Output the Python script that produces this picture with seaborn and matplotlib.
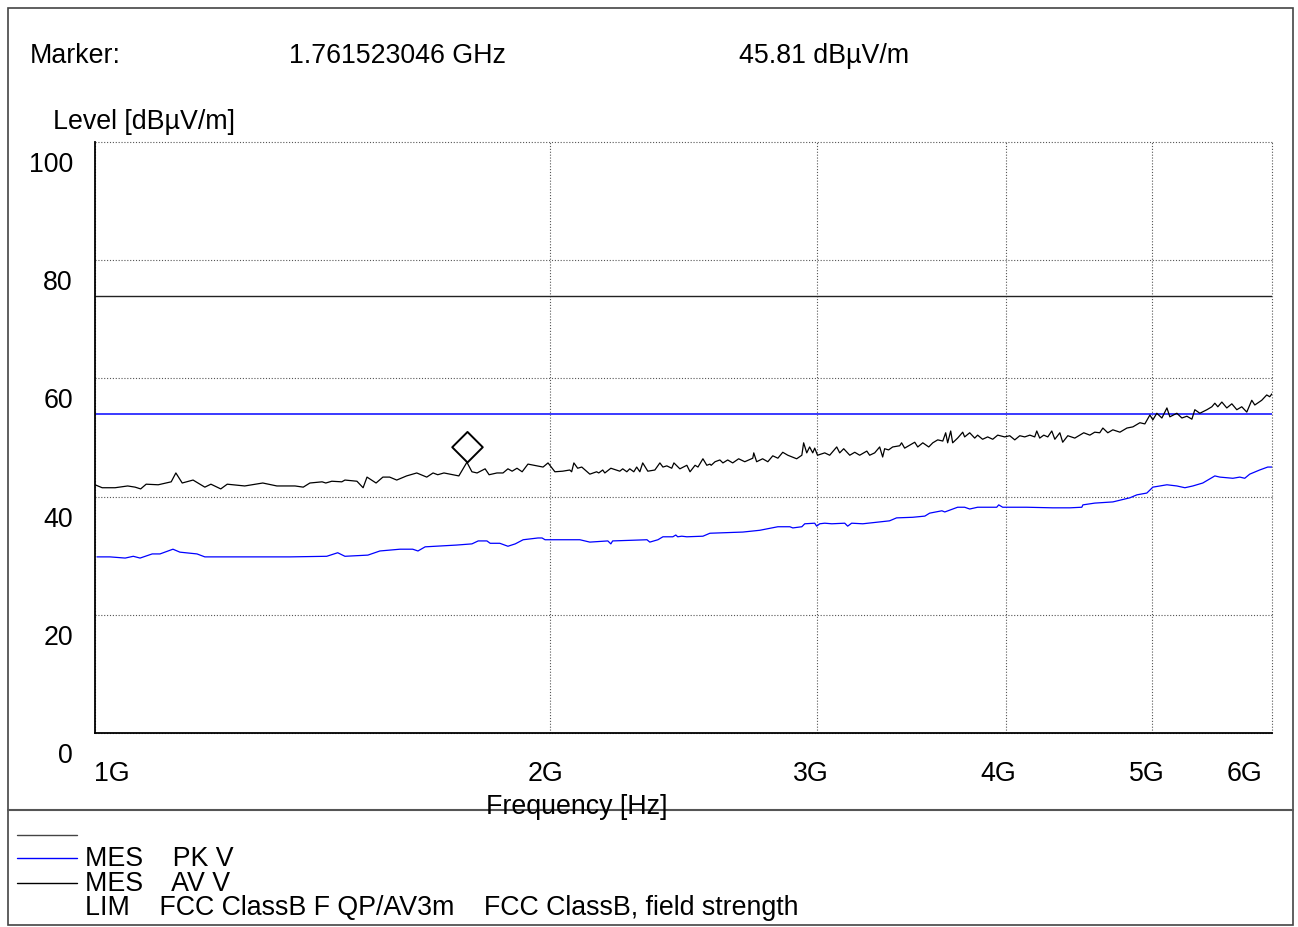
import numpy as np
import pandas as pd
import seaborn as sns
import matplotlib
matplotlib.use("Agg")
import matplotlib.pyplot as plt
from matplotlib.path import Path
from matplotlib.markers import MarkerStyle
from matplotlib.transforms import ScaledTranslation
from matplotlib.lines import Line2D
from matplotlib.patches import Rectangle

# ---------------- data ----------------
av_freq_ghz = [1.000, 1.011, 1.031, 1.051, 1.063, 1.072, 1.081, 1.101, 1.123, 1.131, 1.142, 1.161, 1.182, 1.193,
               1.211, 1.223, 1.256, 1.291, 1.319, 1.356, 1.373, 1.387, 1.413, 1.421, 1.434, 1.456, 1.463, 1.490,
               1.504, 1.513, 1.534, 1.550, 1.566, 1.583, 1.607, 1.632, 1.657, 1.673, 1.685, 1.701, 1.740, 1.7615,
               1.775, 1.789, 1.811, 1.822, 1.844, 1.861, 1.875, 1.887, 1.901, 1.916, 1.933, 1.978, 1.993, 2.014,
               2.038, 2.060, 2.066, 2.073, 2.085, 2.098, 2.124, 2.146, 2.153, 2.166, 2.173, 2.193, 2.223, 2.233,
               2.247, 2.257, 2.271, 2.281, 2.292, 2.302, 2.320, 2.345, 2.363, 2.374, 2.388, 2.406, 2.414, 2.436,
               2.462, 2.474, 2.493, 2.504, 2.523, 2.538, 2.550, 2.555, 2.570, 2.589, 2.601, 2.620, 2.640, 2.664,
               2.689, 2.722, 2.726, 2.738, 2.763, 2.785, 2.806, 2.828, 2.849, 2.871, 2.910, 2.933, 2.941, 2.955,
               2.968, 2.982, 2.991, 3.004, 3.037, 3.060, 3.093, 3.107, 3.126, 3.155, 3.179, 3.203, 3.238, 3.252,
               3.277, 3.302, 3.317, 3.327, 3.347, 3.368, 3.404, 3.414, 3.430, 3.456, 3.483, 3.499, 3.526, 3.558,
               3.580, 3.607, 3.635, 3.651, 3.662, 3.679, 3.690, 3.718, 3.747, 3.758, 3.787, 3.816, 3.833, 3.862,
               3.892, 3.922, 3.952, 3.994, 4.025, 4.056, 4.087, 4.118, 4.150, 4.181, 4.194, 4.213, 4.239, 4.265,
               4.291, 4.311, 4.344, 4.363, 4.397, 4.444, 4.478, 4.505, 4.547, 4.581, 4.616, 4.638, 4.673, 4.709,
               4.760, 4.811, 4.855, 4.907, 4.944, 4.982, 5.005, 5.035, 5.074, 5.113, 5.136, 5.191, 5.231, 5.271,
               5.311, 5.335, 5.376, 5.434, 5.475, 5.500, 5.525, 5.559, 5.601, 5.644, 5.687, 5.730, 5.774, 5.818,
               5.845, 5.907, 5.952, 5.979, 6.000]
av_level = [42.0, 41.5, 41.5, 41.8, 41.6, 41.3, 42.1, 42.0, 42.5, 44.0, 42.3, 42.8, 41.6, 42.1,
            41.3, 42.1, 41.8, 42.3, 41.8, 41.8, 41.6, 42.3, 42.5, 42.3, 42.6, 42.5, 42.8, 42.6,
            41.5, 43.3, 42.3, 43.3, 43.3, 42.8, 43.5, 44.0, 43.3, 44.0, 43.7, 44.0, 43.5, 45.81,
            44.2, 44.0, 44.7, 43.7, 44.0, 44.0, 44.7, 44.3, 44.8, 44.2, 45.5, 45.0, 45.7, 44.2,
            44.3, 44.5, 44.2, 45.7, 44.8, 45.0, 43.8, 44.2, 44.0, 44.5, 44.0, 44.8, 44.3, 44.7,
            44.2, 44.7, 44.2, 45.0, 44.2, 45.7, 44.3, 44.5, 45.7, 45.0, 45.2, 44.8, 45.7, 44.7,
            45.3, 44.2, 45.3, 45.0, 46.4, 45.3, 45.5, 45.3, 45.9, 46.2, 45.7, 46.2, 45.7, 46.4,
            45.9, 46.5, 47.4, 45.9, 46.4, 45.9, 46.9, 46.5, 47.5, 47.0, 46.4, 47.0, 49.1, 47.4,
            48.4, 47.4, 48.2, 47.0, 47.4, 47.0, 48.4, 47.4, 48.1, 47.0, 47.5, 47.0, 47.7, 47.0,
            47.4, 48.4, 46.7, 48.1, 47.9, 48.4, 48.6, 49.1, 48.2, 48.7, 49.2, 48.4, 49.1, 48.4,
            49.1, 49.6, 49.4, 50.8, 49.1, 51.1, 49.1, 49.9, 50.9, 50.1, 50.8, 49.9, 50.4, 49.7,
            50.1, 49.7, 50.4, 50.1, 50.3, 49.6, 50.3, 50.1, 50.4, 50.1, 51.1, 49.9, 50.4, 50.1,
            51.1, 49.7, 50.8, 49.2, 50.3, 49.9, 50.4, 50.8, 50.4, 50.9, 50.8, 51.6, 50.8, 51.3,
            50.9, 51.6, 51.8, 52.5, 52.3, 53.8, 53.0, 54.1, 53.3, 55.0, 53.5, 54.1, 53.3, 53.6,
            53.1, 54.7, 54.1, 54.7, 55.2, 55.8, 55.2, 56.0, 55.0, 55.7, 54.7, 55.2, 54.3, 56.3,
            55.5, 56.3, 57.2, 56.9, 57.4]

pk_freq_ghz = [1.003, 1.023, 1.047, 1.060, 1.071, 1.091, 1.104, 1.126, 1.138, 1.168, 1.182, 1.215, 1.346,
               1.423, 1.447, 1.463, 1.515, 1.543, 1.591, 1.622, 1.635, 1.653, 1.734, 1.775, 1.792, 1.816,
               1.825, 1.852, 1.875, 1.896, 1.919, 1.963, 1.975, 1.984, 2.092, 2.124, 2.183, 2.193, 2.199,
               2.317, 2.327, 2.356, 2.374, 2.410, 2.421, 2.428, 2.443, 2.462, 2.523, 2.550, 2.681, 2.751,
               2.828, 2.880, 2.893, 2.933, 2.946, 2.991, 3.000, 3.014, 3.037, 3.070, 3.131, 3.145, 3.164,
               3.218, 3.352, 3.388, 3.472, 3.537, 3.563, 3.630, 3.646, 3.718, 3.758, 3.787, 3.833, 3.946,
               3.958, 3.982, 4.130, 4.297, 4.411, 4.492, 4.499, 4.581, 4.709, 4.833, 4.885, 4.959, 5.005,
               5.113, 5.191, 5.255, 5.319, 5.400, 5.500, 5.542, 5.653, 5.713, 5.756, 5.800, 5.888, 5.961,
               6.000]
pk_level = [29.8, 29.8, 29.6, 29.9, 29.6, 30.3, 30.3, 31.1, 30.6, 30.3, 29.8, 29.8, 29.8,
            29.9, 30.5, 29.9, 30.1, 30.8, 31.1, 31.1, 30.8, 31.5, 31.8, 32.0, 32.5, 32.5,
            32.1, 32.1, 31.6, 32.0, 32.7, 33.0, 33.0, 32.7, 32.7, 32.3, 32.5, 32.0, 32.5,
            32.7, 32.3, 32.7, 33.2, 33.2, 33.5, 33.2, 33.3, 33.2, 33.3, 33.8, 34.0, 34.3,
            34.9, 34.9, 34.7, 34.9, 35.4, 35.5, 35.0, 35.4, 35.5, 35.4, 35.5, 35.0, 35.5,
            35.4, 35.9, 36.4, 36.5, 36.7, 37.2, 37.6, 37.4, 38.2, 38.2, 37.9, 38.2, 38.2,
            38.6, 38.2, 38.2, 38.1, 38.1, 38.2, 38.6, 38.9, 39.1, 39.8, 40.3, 40.6, 41.6,
            42.0, 41.8, 41.5, 41.8, 42.3, 43.5, 43.3, 43.1, 43.3, 43.1, 43.8, 44.5, 45.0,
            45.0]

limit_levels = [74.0, 54.0]
marker_freq_ghz = 1.761523046
marker_level = 45.81

y_ticks = [0, 20, 40, 60, 80, 100]
x_ticks_ghz = [1, 2, 3, 4, 5, 6]
x_tick_labels = ["1G", "2G", "3G", "4G", "5G", "6G"]

header_texts = ["Marker:", "1.761523046 GHz", "45.81 dBµV/m"]
legend_rows = [["MES", "PK V"], ["MES", "AV V"],
               ["LIM", "FCC ClassB F QP/AV3m", "FCC ClassB, field strength"]]

# ---------------- style ----------------
sns.set_style("white")
FONT = ["Liberation Sans", "DejaVu Sans"]
plt.rcParams["font.family"] = FONT
plt.rcParams["text.color"] = "black"
FS = 19.3

W, H = 1298, 927
fig = plt.figure(figsize=(W / 100, H / 100), dpi=100)


def fx(px):
    return px / W


def fy(py):
    return 1 - py / H


ax = fig.add_axes([fx(95), fy(733), fx(1272) - fx(95), fy(142) - fy(733)])

df = pd.concat([
    pd.DataFrame({"freq": np.array(pk_freq_ghz) * 1e9, "level": pk_level, "series": "PK V"}),
    pd.DataFrame({"freq": np.array(av_freq_ghz) * 1e9, "level": av_level, "series": "AV V"}),
])
ax.set_xscale("log")
sns.lineplot(data=df, x="freq", y="level", hue="series",
             palette={"PK V": "#0000ff", "AV V": "#000000"},
             estimator=None, sort=False, legend=False, lw=0.9, ax=ax)

ax.axhline(limit_levels[0], color="#222222", lw=1.0, zorder=1)
ax.axhline(limit_levels[1], color="#3a3aff", lw=1.4, zorder=1)

# marker diamond sitting on the trace
diamond = Path([(0, 0), (1, 1), (0, 2), (-1, 1), (0, 0)],
               [Path.MOVETO, Path.LINETO, Path.LINETO, Path.LINETO, Path.CLOSEPOLY])
ax.plot([marker_freq_ghz * 1e9], [marker_level], marker=MarkerStyle(diamond),
        markersize=44, markerfacecolor="none", markeredgecolor="black",
        markeredgewidth=1.4, linestyle="none", zorder=5)

ax.set_xlim(1e9, 6e9)
ax.set_ylim(0, 100)
ax.set_xticks([v * 1e9 for v in x_ticks_ghz])
ax.set_xticklabels(x_tick_labels)
ax.minorticks_off()
ax.set_yticks(y_ticks)
ax.set_yticklabels([str(v) for v in y_ticks])
ax.tick_params(length=0, labelsize=FS, colors="black")
ax.tick_params(axis="y", pad=16)
ax.tick_params(axis="x", pad=20.5)
ax.set_xlabel("")
ax.set_ylabel("")

ax.grid(True, color="#555555", linestyle=(0, (1, 1.6)), lw=0.8)
for gl in ax.get_xgridlines() + ax.get_ygridlines():
    gl.set_clip_on(False)

for s in ["top", "right"]:
    ax.spines[s].set_visible(False)
for s in ["left", "bottom"]:
    ax.spines[s].set_color("black")
    ax.spines[s].set_linewidth(1.3)

# offsets of tick labels (reference places them below/left of ticks)
for lab in ax.get_yticklabels():
    lab.set_transform(lab.get_transform() + ScaledTranslation(0, -0.20, fig.dpi_scale_trans))
x_off = [0.17, -0.05, -0.06, -0.07, -0.05, -0.28]
for lab, dx in zip(ax.get_xticklabels(), x_off):
    lab.set_transform(lab.get_transform() + ScaledTranslation(dx, 0, fig.dpi_scale_trans))

# header texts
fig.text(fx(30), fy(56), header_texts[0], fontsize=FS, va="center", ha="left")
fig.text(fx(289), fy(56), header_texts[1], fontsize=FS, va="center", ha="left")
fig.text(fx(739), fy(56), header_texts[2], fontsize=FS, va="center", ha="left")
fig.text(fx(53), fy(122), "Level [dBµV/m]", fontsize=FS, va="center", ha="left")
fig.text(fx(577), fy(807), "Frequency [Hz]", fontsize=FS, va="center", ha="center")

# frame and separator
fig.add_artist(Rectangle((fx(8), fy(925)), fx(1293) - fx(8), fy(8) - fy(925),
                         transform=fig.transFigure, fill=False, edgecolor="#444444", lw=1.2))
fig.add_artist(Line2D([fx(8), fx(1293)], [fy(810), fy(810)], transform=fig.transFigure,
                      color="#555555", lw=1.5))

# legend block
fig.add_artist(Line2D([fx(17), fx(77)], [fy(835), fy(835)], transform=fig.transFigure,
                      color="#444444", lw=1.0))
fig.add_artist(Line2D([fx(17), fx(77)], [fy(858), fy(858)], transform=fig.transFigure,
                      color="#0000ff", lw=1.0))
fig.add_artist(Line2D([fx(17), fx(77)], [fy(883), fy(883)], transform=fig.transFigure,
                      color="#000000", lw=1.0))

legend_text = "\n".join("    ".join(r) for r in legend_rows)
fig.text(fx(85), fy(921), legend_text, fontsize=FS, va="bottom", ha="left",
         linespacing=0.915)

fig.savefig("out.png", dpi=100)
